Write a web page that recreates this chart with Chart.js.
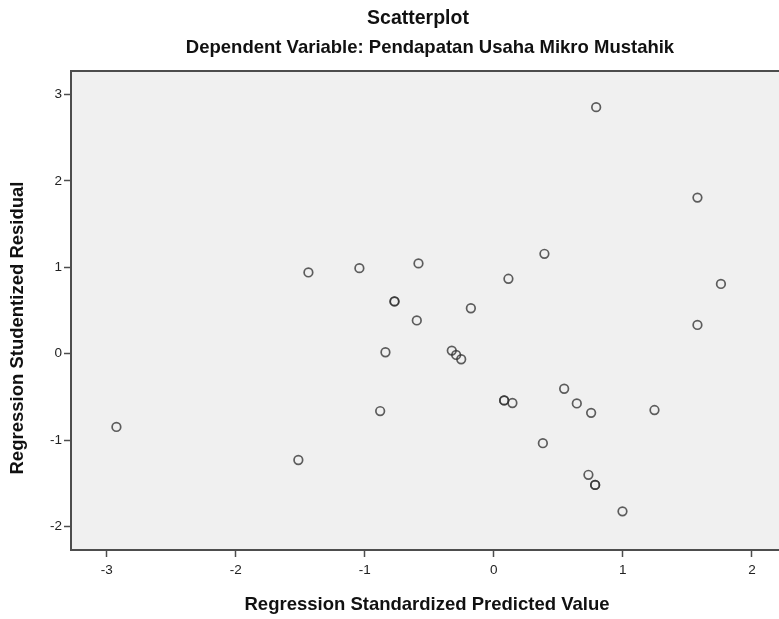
<!DOCTYPE html>
<html>
<head>
<meta charset="utf-8">
<script src="https://cdn.jsdelivr.net/npm/chart.js@4.4.1/dist/chart.umd.min.js"></script>
<style>
  html, body { margin: 0; padding: 0; background: #fff; overflow: hidden; }
  #wrap { width: 779px; height: 619px; overflow: hidden; }
</style>
</head>
<body>
<div id="wrap"><canvas id="chart" width="785" height="619"></canvas></div>
<script>
// ── Data ──
const chartTitle = 'Scatterplot';
const chartSubtitle = 'Dependent Variable: Pendapatan Usaha Mikro Mustahik';
const xTitle = 'Regression Standardized Predicted Value';
const yTitle = 'Regression Studentized Residual';

const xTicks = [-3, -2, -1, 0, 1, 2];
const yTicks = [-2, -1, 0, 1, 2, 3];

const predicted = [-2.925, -1.515, -1.437, -1.042, -0.881, -0.840, -0.770, -0.770,
  -0.597, -0.584, -0.326, -0.292, -0.253, -0.178, 0.080, 0.080, 0.113, 0.144,
  0.380, 0.392, 0.545, 0.643, 0.733, 0.754, 0.785, 0.785, 0.793, 0.997, 1.245,
  1.578, 1.578, 1.760];
const residual = [-0.847, -1.229, 0.940, 0.990, -0.663, 0.017, 0.605, 0.605,
  0.385, 1.045, 0.036, -0.014, -0.064, 0.526, -0.540, -0.540, 0.867, -0.570,
  -1.035, 1.156, -0.405, -0.575, -1.400, -0.684, -1.517, -1.517, 2.852, -1.823,
  -0.651, 1.806, 0.333, 0.807];

const FONT = "'Liberation Sans', Arial, sans-serif";
const AXIS_COLOR = '#4d4d4d';

// ── Plugin: grey plot background, top frame line, titles ──
const frameTitlePlugin = {
  id: 'frameTitle',
  beforeDraw(chart) {
    const { ctx, chartArea: a } = chart;
    ctx.save();
    ctx.fillStyle = '#f0f0f0';
    ctx.fillRect(a.left, a.top, a.right - a.left, a.bottom - a.top);
    ctx.restore();
  },
  afterDraw(chart) {
    const { ctx, chartArea: a } = chart;
    ctx.save();
    ctx.strokeStyle = AXIS_COLOR;
    ctx.lineWidth = 2;
    ctx.beginPath();
    ctx.moveTo(a.left, a.top);
    ctx.lineTo(a.right, a.top);
    ctx.stroke();

    ctx.fillStyle = '#111';
    ctx.textAlign = 'center';
    ctx.textBaseline = 'middle';
    ctx.font = `bold 19.5px ${FONT}`;
    ctx.fillText(chartTitle, 418, 19);
    ctx.font = `bold 18.5px ${FONT}`;
    ctx.fillText(chartSubtitle, 430, 48);
    ctx.fillText(xTitle, 427, 605);

    // y axis title (rotated)
    ctx.translate(18, 328);
    ctx.rotate(-Math.PI / 2);
    ctx.fillText(yTitle, 0, 0);
    ctx.restore();
  },
};

const points = predicted.map((x, i) => ({ x, y: residual[i] }));

new Chart(document.getElementById('chart'), {
  type: 'scatter',
  data: {
    datasets: [{
      data: points,
      pointStyle: 'circle',
      pointRadius: 4.3,
      pointBorderWidth: 1.7,
      borderColor: 'rgba(50,50,50,0.78)',
      backgroundColor: 'rgba(0,0,0,0)',
      pointHoverRadius: 4.3,
    }],
  },
  plugins: [frameTitlePlugin],
  options: {
    responsive: false,
    animation: false,
    layout: { padding: { top: 71, right: 0, left: 0, bottom: 0 } },
    plugins: {
      legend: { display: false },
      tooltip: { enabled: false },
    },
    scales: {
      x: {
        type: 'linear',
        min: -3.277,
        max: 2.21,
        afterFit: s => { s.height = 69; },
        afterBuildTicks: s => { s.ticks = xTicks.map(v => ({ value: v })); },
        grid: { drawOnChartArea: false, drawTicks: true, tickLength: 7, tickColor: AXIS_COLOR, tickWidth: 1.5 },
        border: { display: true, color: AXIS_COLOR, width: 2 },
        ticks: { color: '#222', font: { family: FONT, size: 13.5 }, padding: 5, maxRotation: 0 },
      },
      y: {
        type: 'linear',
        min: -2.27,
        max: 3.27,
        afterFit: s => { s.width = 71; },
        afterBuildTicks: s => { s.ticks = yTicks.map(v => ({ value: v })); },
        grid: { drawOnChartArea: false, drawTicks: true, tickLength: 7, tickColor: AXIS_COLOR, tickWidth: 1.5 },
        border: { display: true, color: AXIS_COLOR, width: 2 },
        ticks: { color: '#222', font: { family: FONT, size: 13.5 }, padding: 2 },
      },
    },
  },
});
</script>
</body>
</html>
